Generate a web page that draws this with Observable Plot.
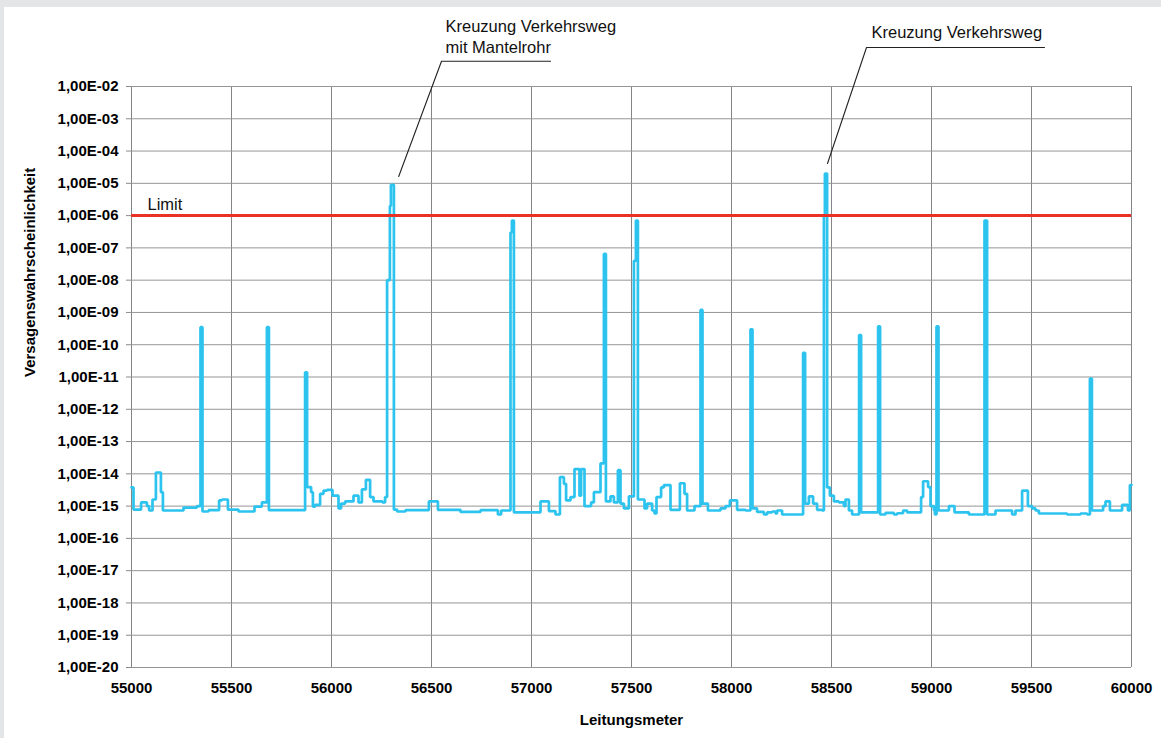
<!DOCTYPE html>
<html><head><meta charset="utf-8">
<script src="https://cdn.jsdelivr.net/npm/d3@7"></script>
<script src="https://cdn.jsdelivr.net/npm/@observablehq/plot@0.6"></script>
<style>
html,body{margin:0;padding:0;background:#e4e5e7;width:1161px;height:738px;overflow:hidden}
#card{position:absolute;left:4px;top:7px;width:1157px;height:731px;background:#fff}
#card svg{overflow:visible}
</style></head><body><div id="card"></div>
<script>
// Step profile: position (m) where each level starts, and failure probability
const meters = [
55000,55010,55048,55077,55088,55105,55122,55147,55157,55260,55327,55345,55355,55385,55438,55452,55482,55535,55615,55652,
55677,55687,55868,55878,55898,55907,55918,55943,55960,55977,56005,56035,56048,56068,56110,56135,56152,56172,56193,56210,
56255,56268,56278,56292,56297,56312,56328,56370,56487,56532,56645,56745,56832,56848,56895,56902,56912,57045,57087,57120,
57142,57162,57173,57195,57215,57240,57248,57265,57298,57312,57345,57362,57372,57395,57412,57432,57445,57462,57487,57512,
57522,57532,57565,57578,57603,57615,57625,57648,57662,57695,57742,57765,57778,57815,57845,57855,57882,57945,57970,57992,
58028,58070,58095,58105,58128,58162,58178,58203,58220,58228,58253,58358,58368,58387,58408,58428,58453,58462,58467,58478,
58492,58512,58537,58562,58570,58587,58603,58638,58648,58733,58743,58770,58812,58828,58858,58878,58948,58958,58983,58995,
59012,59017,59025,59035,59087,59115,59187,59265,59278,59320,59403,59420,59453,59482,59503,59520,59537,59678,59745,59778,
59792,59802,59858,59870,59892,59953,59982,59992,60000];
const probability = [
3.8e-15,7.8e-16,1.3e-15,1e-15,7.3e-16,1.6e-15,1.1e-14,2.7e-15,7.3e-16,9e-16,1e-15,3.5e-10,6.8e-16,7.5e-16,1.5e-15,1.6e-15,7.8e-16,6.8e-16,9.7e-16,1.3e-15,
3.5e-10,7.5e-16,1.4e-11,3.9e-15,2.7e-15,9.7e-16,1.1e-15,2.4e-15,3e-15,3.2e-15,2.1e-15,8.5e-16,1.2e-15,1.4e-15,2.1e-15,1.3e-15,3.3e-15,6.5e-15,1.9e-15,1.4e-15,
1.3e-15,1.9e-15,1e-8,2e-6,9e-6,7.8e-16,6.8e-16,7.5e-16,1.4e-15,7.7e-16,6.6e-16,7.5e-16,5.5e-16,7.3e-16,3e-7,7e-7,6.4e-16,1.4e-15,7e-16,5.5e-16,
7.9e-15,4.9e-15,1.5e-15,1.9e-15,1.4e-14,2.1e-15,1.4e-14,1e-15,1.3e-15,2.7e-15,2.1e-14,6.5e-8,1.4e-15,2e-15,1.3e-15,1.3e-14,1.2e-15,8.5e-16,2e-15,4e-8,
7e-7,1.6e-15,8.5e-16,1.2e-15,7.3e-16,5.9e-16,1.9e-15,3.8e-15,4.5e-15,7.7e-16,5.1e-15,2.4e-15,7.3e-16,1e-15,1.2e-9,1.2e-15,7.3e-16,8.5e-16,1e-15,1.5e-15,
7.7e-16,7.3e-16,3e-10,8.5e-16,6.6e-16,5.5e-16,6.4e-16,6.8e-16,5.9e-16,7.3e-16,5.5e-16,5.6e-11,1.2e-15,2e-15,1.2e-15,7.7e-16,7.3e-16,1e-6,2e-5,3.8e-15,
2.1e-15,1.4e-15,1.3e-15,1e-15,1.6e-15,7.3e-16,5.5e-16,2e-10,6.4e-16,3.7e-10,5.5e-16,6.2e-16,5.5e-16,6e-16,7.3e-16,6.4e-16,1.9e-15,5.9e-15,3.9e-15,1e-15,
7.3e-16,5.5e-16,3.7e-10,7.3e-16,1e-15,6.4e-16,5.5e-16,7e-7,5.5e-16,7.3e-16,5.5e-16,7.3e-16,3e-15,1e-15,8.5e-16,7.3e-16,5.9e-16,5.5e-16,5.9e-16,5.5e-16,
9e-12,7.3e-16,1e-15,1.4e-15,7.3e-16,1.1e-15,7.3e-16,4.5e-15,4.5e-15];

const xTicks = [55000,55500,56000,56500,57000,57500,58000,58500,59000,59500,60000];
const yExponents = [-2,-3,-4,-5,-6,-7,-8,-9,-10,-11,-12,-13,-14,-15,-16,-17,-18,-19,-20];
const limitValue = 1e-6;
const limitLabel = "Limit";

// Annotations (data coordinates)
const annoText = ["Kreuzung Verkehrsweg", "mit Mantelrohr", "Kreuzung Verkehrsweg"];
const annoTextX = [56570, 56570, 58700];
const annoTextY = [0.687, 0.154, 0.471];
const leaderId = ["a","a","a","b","b","b"];
const leaderX = [56336, 56550, 57095, 58480, 58675, 59565];
const leaderY = [1.63e-5, 0.0608, 0.0608, 4.12e-5, 0.161, 0.161];

const xTitle = "Leitungsmeter";
const yTitle = "Versagenswahrscheinlichkeit";

const yTicks = yExponents.map(e => Math.pow(10, e));
const fmtY = v => "1,00E-" + String(-Math.round(Math.log10(v))).padStart(2, "0");
const series = meters.map((m, i) => ({m, p: probability[i]}));
const FONT = "'Liberation Sans', Arial, sans-serif";

const chart = Plot.plot({
  width: 1157, height: 731,
  marginLeft: 127, marginRight: 30, marginTop: 79, marginBottom: 71,
  style: {background: "transparent", fontFamily: FONT, color: "#000", overflow: "visible"},
  x: {domain: [55000, 60000]},
  y: {type: "log", domain: [1e-20, 1e-2]},
  marks: [
    Plot.gridX(xTicks, {stroke: "#858585", strokeOpacity: 1, strokeWidth: 1}),
    Plot.gridY(yTicks, {stroke: "#959595", strokeOpacity: 1, strokeWidth: 1}),
    Plot.axisY(yTicks, {tickFormat: fmtY, tickSize: 5, tickPadding: 8, stroke: "#8a8a8a", fontSize: 15, fontWeight: "bold", label: null}),
    Plot.axisX(xTicks, {tickFormat: d => String(d), tickSize: 0, tickPadding: 15, fontSize: 15, fontWeight: "bold", label: null}),
    Plot.line(series, {x: "m", y: "p", curve: "step-after", stroke: "#2cc3ef", strokeWidth: 2.7, strokeLinejoin: "miter"}),
    Plot.ruleY([limitValue], {stroke: "#ea3126", strokeWidth: 3}),
    Plot.text([limitLabel], {x: 55080, y: limitValue, dy: -11, text: d => d, textAnchor: "start", fontSize: 16.5, fill: "#111"}),
    Plot.line(leaderX, {x: leaderX, y: leaderY, z: leaderId, stroke: "#222", strokeWidth: 1.1}),
    Plot.text(annoText, {x: annoTextX, y: annoTextY, text: d => d, textAnchor: "start", fontSize: 16.5, fill: "#111"}),
    Plot.text([yTitle], {frameAnchor: "left", dx: -101, rotate: -90, text: d => d, fontSize: 15, fontWeight: "bold"}),
    Plot.text([xTitle], {frameAnchor: "bottom", dy: 57, text: d => d, fontSize: 15, fontWeight: "bold"})
  ]
});
document.getElementById("card").appendChild(chart);
</script></body></html>
